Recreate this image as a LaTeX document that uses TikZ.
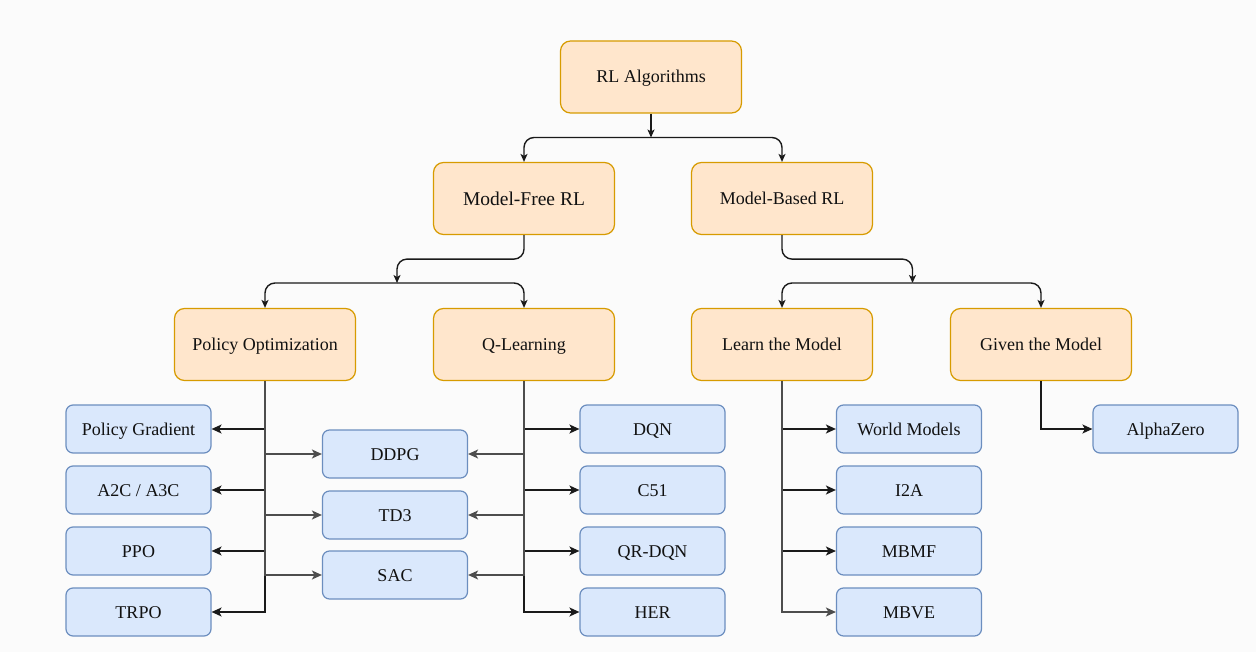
\documentclass[tikz,border=0pt]{standalone}
\usepackage{fontspec}
\setmainfont{Liberation Serif}
\usetikzlibrary{arrows.meta}

\definecolor{canvas}{HTML}{FBFBFB}
\definecolor{ofill}{HTML}{FFE6CC}
\definecolor{ostroke}{HTML}{D79B00}
\definecolor{bfill}{HTML}{DAE8FC}
\definecolor{bstroke}{HTML}{6C8EBF}
\definecolor{ink}{HTML}{111111}
\definecolor{wire}{HTML}{1A1A1A}
\definecolor{softwire}{HTML}{4D4D4D}

\tikzset{
  category/.style={draw=ostroke, fill=ofill, line width=1.2pt, rounded corners=10pt,
    minimum width=181pt, minimum height=72pt, inner sep=0pt, text=ink,
    text height=16pt, text depth=4pt,
    font=\fontsize{18}{21.6}\selectfont},
  algo/.style={draw=bstroke, fill=bfill, line width=1.2pt, rounded corners=7pt,
    minimum width=145pt, minimum height=48pt, inner sep=0pt, text=ink,
    text height=16pt, text depth=4pt,
    font=\fontsize{18}{21.6}\selectfont},
  split/.style={draw=wire, line width=1.4pt, rounded corners=10pt,
    -{Stealth[length=8pt,width=7pt,inset=2pt]}},
  branch/.style={draw=wire, line width=1.4pt,
    -{Stealth[length=10pt,width=9pt,inset=2.5pt]}},
  softbranch/.style={branch, draw=softwire, -{Stealth[length=10pt,width=9pt,inset=2.5pt,fill=softwire]}},
}

\begin{document}
\begin{tikzpicture}[x=1pt,y=-1pt]
  % page
  \fill[canvas] (0,0) rectangle (1256,652);
  \useasboundingbox (0,0) rectangle (1256,652);

  % category boxes
  \node[category] (rl) at (651,77) {RL Algorithms};
  \node[category, font=\fontsize{19.5}{23}\selectfont, text height=17.4pt, text depth=4.2pt]
    (mf) at (524,198.5) {Model-Free RL};
  \node[category] (mb) at (782,198.5) {Model-Based RL};
  \node[category] (po) at (265,344.5) {Policy Optimization};
  \node[category] (ql) at (524,344.5) {Q-Learning};
  \node[category] (lm) at (782,344.5) {Learn the Model};
  \node[category] (gm) at (1041,344.5) {Given the Model};

  % algorithm boxes
  \node[algo] (pg)   at (138.5,429) {Policy Gradient};
  \node[algo] (a2c)  at (138.5,490) {A2C / A3C};
  \node[algo] (ppo)  at (138.5,551) {PPO};
  \node[algo] (trpo) at (138.5,612) {TRPO};

  \node[algo] (ddpg) at (395,454) {DDPG};
  \node[algo] (td3)  at (395,515) {TD3};
  \node[algo] (sac)  at (395,575) {SAC};

  \node[algo] (dqn)   at (652.5,429) {DQN};
  \node[algo] (c51)   at (652.5,490) {C51};
  \node[algo] (qrdqn) at (652.5,551) {QR-DQN};
  \node[algo] (her)   at (652.5,612) {HER};

  \node[algo] (wm)   at (909,429) {World Models};
  \node[algo] (i2a)  at (909,490) {I2A};
  \node[algo] (mbmf) at (909,551) {MBMF};
  \node[algo] (mbve) at (909,612) {MBVE};

  \node[algo] (az) at (1165.5,429) {AlphaZero};

  % upper splits
  \coordinate (j1) at (651,137.5);
  \coordinate (j2) at (397,283);
  \coordinate (j3) at (912.5,283);

  \draw[split] (rl.south) -- (j1);
  \draw[split] (j1) -| (mf.north);
  \draw[split] (j1) -| (mb.north);

  \draw[split] (mf.south) -- ++(0,24) -| (j2);
  \draw[split] (j2) -| (po.north);
  \draw[split] (j2) -| (ql.north);

  \draw[split] (mb.south) -- ++(0,24) -| (j3);
  \draw[split] (j3) -| (lm.north);
  \draw[split] (j3) -| (gm.north);

  % policy optimization
  \foreach \t in {pg,a2c,ppo,trpo} \draw[branch] (po.south) |- (\t.east);
  \foreach \t in {ddpg,td3,sac} \draw[softbranch] (po.south) |- (\t.west);

  % q-learning
  \foreach \t in {dqn,c51,qrdqn,her} \draw[branch] (ql.south) |- (\t.west);
  \foreach \t in {ddpg,td3,sac} \draw[softbranch] (ql.south) |- (\t.east);

  % model-based
  \foreach \t in {wm,i2a,mbmf} \draw[branch] (lm.south) |- (\t.west);
  \draw[softbranch] (lm.south) |- (mbve.west);
  \draw[branch] (gm.south) |- (az.west);
\end{tikzpicture}
\end{document}
